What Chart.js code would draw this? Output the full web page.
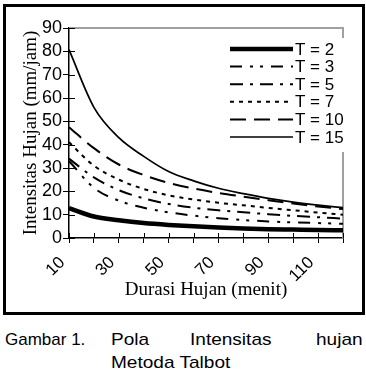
<!DOCTYPE html>
<html>
<head>
<meta charset="utf-8">
<script src="https://cdn.jsdelivr.net/npm/chart.js@4.4.1/dist/chart.umd.min.js"></script>
<style>
  body { margin: 0; background: #fff; width: 366px; height: 388px; position: relative; overflow: hidden; }
  #frame { position: absolute; left: 3px; top: 4px; width: 362px; height: 311px; box-sizing: border-box; border: 3px solid #000; }
  #wrap { position: absolute; left: 0; top: 0; width: 366px; height: 320px; }
  .cap { position: absolute; font-family: "Liberation Sans", Arial, sans-serif; font-size: 17px; color: #000; white-space: nowrap; transform-origin: left top; }
  .wide { transform: scaleX(1.12); }
</style>
</head>
<body>
<div id="frame"></div>
<div id="wrap"><canvas id="line-chart"></canvas></div>
<div class="cap" style="left:5px; top:330px;">Gambar 1.</div>
<div class="cap wide" style="left:111px; top:330px;">Pola</div>
<div class="cap wide" style="left:190px; top:330px;">Intensitas</div>
<div class="cap wide" style="left:316px; top:330px;">hujan</div>
<div class="cap wide" style="left:111px; top:353px;">Metoda Talbot</div>
<script>
const durasi = [10, 20, 30, 40, 50, 60, 70, 80, 90, 100, 110, 120];
const t2  = [12.8, 9.2, 7.6, 6.4, 5.6, 5.0, 4.5, 4.1, 3.8, 3.6, 3.4, 3.3];
const t3  = [33, 21.5, 16, 13, 11, 9.6, 8.5, 7.7, 7.1, 6.7, 6.4, 6.1];
const t5  = [34, 26, 20.5, 17, 14.6, 13, 11.9, 11, 10.2, 9.5, 8.9, 8.3];
const t7  = [41, 31, 25, 21, 18.3, 16.5, 15.1, 14, 12.9, 11.9, 10.9, 10.0];
const t10 = [47.5, 38.5, 31.5, 27, 23.6, 21.2, 19.3, 17.7, 16.2, 14.8, 13.5, 12.4];
const t15 = [80.7, 56, 43, 35, 28.5, 24.5, 21.3, 19, 17, 15.4, 14.1, 13.0];
const yTicks = [0, 10, 20, 30, 40, 50, 60, 70, 80, 90];

const sans = '"Liberation Sans", Arial, sans-serif';
const serif = '"Liberation Serif", "Times New Roman", serif';

// plot border (grey top/right), crossing tick marks, legend box inside plot
const extras = {
  id: 'extras',
  beforeDatasetsDraw(chart) {
    const { ctx, chartArea: a, scales } = chart;
    ctx.save();
    ctx.strokeStyle = '#a0a0a0';
    ctx.lineWidth = 2;
    ctx.beginPath();
    ctx.moveTo(a.left, a.top);
    ctx.lineTo(a.right, a.top);
    ctx.lineTo(a.right, a.bottom);
    ctx.stroke();
    ctx.strokeStyle = '#000';
    ctx.lineWidth = 1;
    ctx.beginPath();
    scales.x.ticks.forEach((t, i) => {
      const x = Math.round(scales.x.getPixelForTick(i)) + 0.5;
      ctx.moveTo(x, a.bottom);
      ctx.lineTo(x, a.bottom - 5);
    });
    scales.y.ticks.forEach((t, i) => {
      const y = Math.round(scales.y.getPixelForTick(i)) + 0.5;
      ctx.moveTo(a.left, y);
      ctx.lineTo(a.left + 6, y);
    });
    ctx.stroke();
    ctx.restore();
  },
  afterDraw(chart) {
    const { ctx, chartArea: a } = chart;
    const x0 = a.right - 113;
    const y0 = a.top + 10;
    ctx.save();
    ctx.fillStyle = '#fff';
    ctx.fillRect(x0 - 4, y0, 124, 114);
    ctx.font = '17px ' + sans;
    ctx.textBaseline = 'middle';
    ctx.fillStyle = '#000';
    chart.data.datasets.forEach((ds, i) => {
      const y = y0 + 11 + i * 17.6;
      ctx.strokeStyle = '#000';
      ctx.lineWidth = ds.borderWidth;
      ctx.setLineDash(ds.borderDash || []);
      ctx.beginPath();
      ctx.moveTo(x0, y);
      ctx.lineTo(x0 + 63, y);
      ctx.stroke();
      ctx.fillText(ds.label, x0 + 65, y + 1);
    });
    ctx.restore();
  }
};

const lineChart = document.getElementById('line-chart');

new Chart(lineChart, {
  type: 'line',
  data: {
    labels: durasi,
    datasets: [
      { label: 'T = 2',  data: t2,  borderWidth: 4.5, borderDash: [] },
      { label: 'T = 3',  data: t3,  borderWidth: 2, borderDash: [12, 8, 3, 7, 3, 8] },
      { label: 'T = 5',  data: t5,  borderWidth: 2, borderDash: [13, 7, 3, 7] },
      { label: 'T = 7',  data: t7,  borderWidth: 2, borderDash: [4, 5] },
      { label: 'T = 10', data: t10, borderWidth: 2, borderDash: [16, 8] },
      { label: 'T = 15', data: t15, borderWidth: 1.7, borderDash: [] }
    ].map(d => Object.assign(d, {
      borderColor: '#000',
      backgroundColor: '#000',
      pointRadius: 0,
      fill: false,
      cubicInterpolationMode: 'monotone'
    }))
  },
  options: {
    responsive: true,
    maintainAspectRatio: false,
    animation: false,
    events: [],
    layout: { padding: { top: 28, right: 23, left: 0, bottom: 0 } },
    scales: {
      x: {
        afterFit(scale) { scale.height = 82; },
        grid: { display: true, drawOnChartArea: false, tickLength: 5, color: '#000', tickColor: '#000' },
        border: { display: true, color: '#000', width: 1.5 },
        ticks: {
          autoSkip: false,
          maxRotation: 45,
          minRotation: 45,
          padding: 3,
          color: '#000',
          font: { family: sans, size: 17 },
          callback(value, index) { return index % 2 === 0 ? this.getLabelForValue(value) + '  ' : ''; }
        },
        title: {
          display: true,
          text: 'Durasi Hujan (menit)',
          color: '#000',
          font: { family: serif, size: 19 },
          padding: { top: 0, bottom: 19 }
        }
      },
      y: {
        min: 0,
        max: 90,
        afterFit(scale) { scale.width = 69; },
        afterBuildTicks(scale) { scale.ticks = yTicks.map(v => ({ value: v })); },
        grid: { display: true, drawOnChartArea: false, tickLength: 6, color: '#000', tickColor: '#000' },
        border: { display: true, color: '#000', width: 1.5 },
        ticks: {
          autoSkip: false,
          padding: 1,
          color: '#000',
          font: { family: sans, size: 18 }
        },
        title: {
          display: true,
          text: 'Intensitas Hujan (mm/jam)',
          color: '#000',
          font: { family: serif, size: 19 },
          padding: { top: 20, bottom: 0 }
        }
      }
    },
    plugins: {
      legend: { display: false },
      tooltip: { enabled: false }
    }
  },
  plugins: [extras]
});
</script>
</body>
</html>
